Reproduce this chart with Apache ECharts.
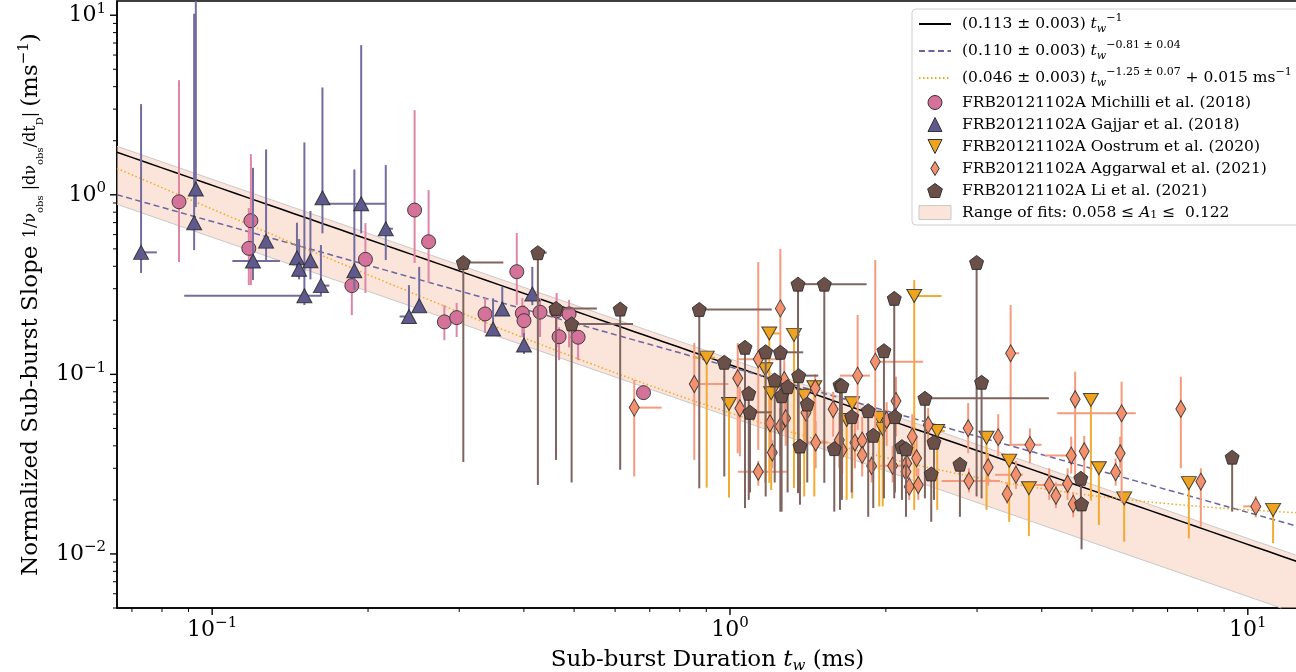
<!DOCTYPE html>
<html><head><meta charset="utf-8">
<script src="https://cdn.jsdelivr.net/npm/echarts@6/dist/echarts.min.js"></script>
<style>html,body{margin:0;padding:0;background:#fff}#c{width:1296px;height:672px}</style>
</head><body><div id="c"></div>
<script>
// ---------- axis ranges ----------
const X_MIN = 0.0655, X_MAX = 12.5;
const Y_MIN = 0.005, Y_MAX = 12;

// ---------- fit parameters [A, exponent, offset] ----------
const fitSolid = [0.113, -1, 0];
const fitDashed = [0.110, -0.81, 0];
const fitDotted = [0.046, -1.25, 0.015];
const bandA = [0.058, 0.122];

// ---------- data rows: [t_w, slope, slopeLo, slopeHi, tLo, tHi] ----------
const michilli = [
[0.0863,0.914,0.422,4.35,null,null],[0.1188,0.717,0.314,1.685,null,null],[0.1177,0.503,0.314,0.843,null,null],
[0.246,0.822,0.417,2.96,null,null],[0.2618,0.548,0.323,1.062,null,null],[0.1977,0.437,0.284,0.696,null,null],
[0.1861,0.312,0.214,0.348,null,null],[0.2808,0.196,0.155,0.243,null,null],[0.2966,0.207,0.1615,0.250,null,null],
[0.3365,0.217,0.170,0.266,null,null],[0.3875,0.373,0.243,0.612,null,null],[0.3972,0.219,0.1615,0.266,null,null],
[0.4001,0.199,0.1457,0.243,null,null],[0.4297,0.222,0.1615,0.266,null,null],[0.4626,0.226,0.1415,0.284,null,null],
[0.4889,0.217,0.1415,0.26,null,null],[0.4677,0.162,0.120,0.183,null,null],[0.509,0.161,0.120,0.176,null,null],
[0.6808,0.0791,0.072,0.0873,null,null]
];
const gajjar = [
[0.0729,0.478,0.367,3.20,null,0.0782],[0.0930,1.076,0.854,14,null,null],[0.0923,0.699,0.492,10.2,null,null],
[0.1199,0.428,0.335,1.413,0.1094,0.1352],[0.1271,0.552,0.433,1.789,null,null],[0.1458,0.446,0.350,0.699,null,null],
[0.1472,0.385,0.338,0.567,null,null],[0.1548,0.429,0.338,0.812,null,null],[0.1507,0.274,0.243,1.957,0.0883,0.1616],
[0.1622,0.312,0.271,0.525,null,0.1684],[0.1633,0.962,0.610,3.96,null,null],[0.1940,0.891,0.610,6.81,0.1637,0.2168],
[0.1882,0.378,0.295,1.384,null,null],[0.2164,0.647,0.433,1.463,null,0.2234],[0.2399,0.210,0.201,0.314,0.2301,null],
[0.2511,0.241,0.231,0.397,null,null],[0.3633,0.231,0.220,0.308,null,null],[0.3487,0.179,0.169,0.265,null,null],
[0.4152,0.280,0.243,0.397,null,null],[0.4001,0.1457,0.13,0.17,null,null]
];
const oostrum = [
[0.9016,0.1239,0.0234,0.1239,0.8474,0.9355],[1.191,0.169,0.0249,0.169,1.17,1.249],[1.329,0.166,0.0233,0.166,null,1.365],
[1.170,0.1068,0.0249,0.1068,null,null],[0.9956,0.0684,0.0206,0.0684,null,null],[1.201,0.0785,0.0227,0.0785,null,null],
[1.391,0.0761,0.0209,0.0761,null,null],[1.455,0.0848,0.0209,0.0848,null,null],[1.722,0.0691,0.0204,0.0691,null,null],
[1.680,0.0557,0.0200,0.0557,null,null],[1.942,0.0574,0.0184,0.0574,null,null],[1.972,0.0497,0.0184,0.0497,null,null],
[2.269,0.273,0.0176,0.335,null,2.563],[2.513,0.0484,0.0176,0.0484,null,2.6],[3.129,0.0444,0.0176,0.0444,null,null],
[3.461,0.0331,0.0151,0.0331,null,null],[3.778,0.0232,0.0126,0.0232,null,null],[4.977,0.0720,0.0198,0.0720,null,null],
[5.157,0.0300,0.0145,0.0300,null,null],[5.771,0.0204,0.0117,0.0204,null,null],[7.693,0.0248,0.0122,0.0248,null,null],
[11.19,0.0176,0.0115,0.0176,null,null]
];
const aggarwal = [
[0.6533,0.0653,0.0270,0.0931,null,0.7379],[0.8532,0.0884,0.0334,0.1495,null,0.9925],[1.251,0.233,0.120,0.50,null,null],
[1.134,0.1213,0.038,0.422,1.036,1.258],[1.035,0.0951,0.0364,0.1495,null,null],[1.045,0.0648,0.035,0.085,null,null],
[1.134,0.0287,0.024,0.033,1.036,1.287],[1.195,0.0534,0.040,0.070,null,null],[1.207,0.0367,0.030,0.043,null,null],
[1.249,0.0512,0.035,0.065,null,null],[1.281,0.0570,0.040,0.075,null,null],[1.273,0.0931,0.060,0.120,null,null],
[1.461,0.0837,0.050,0.100,null,null],[1.402,0.0612,0.040,0.080,null,null],[1.464,0.0417,0.030,0.055,1.35,1.55],
[1.582,0.0639,0.045,0.080,null,null],[1.626,0.0431,0.030,0.060,null,null],[1.647,0.0380,0.028,0.050,null,null],
[1.743,0.0417,0.030,0.060,null,null],[1.800,0.0428,0.030,0.058,null,null],[1.800,0.0356,0.027,0.045,null,null],
[1.764,0.0984,0.0491,0.214,1.631,1.863],[1.908,0.1177,0.0450,0.433,null,2.361],[1.877,0.0309,0.025,0.035,null,null],
[2.092,0.0711,0.045,0.0971,null,null],[2.061,0.0310,0.025,0.040,1.95,2.2],[2.007,0.0557,0.040,0.070,null,null],
[2.249,0.0450,0.035,0.060,null,null],[2.293,0.0341,0.027,0.045,null,null],[2.194,0.0320,0.026,0.040,null,null],
[2.187,0.0287,0.023,0.035,null,null],[2.219,0.0237,0.020,0.027,null,null],[2.310,0.0242,0.020,0.030,null,null],
[2.414,0.0523,0.040,0.065,null,null],[2.884,0.0501,0.0364,0.0693,null,null],[2.893,0.0255,0.022,0.030,2.563,3.321],
[3.152,0.0304,0.024,0.036,null,null],[3.296,0.0447,0.035,0.060,null,null],[3.483,0.1310,0.0400,0.243,null,3.619],
[3.795,0.0405,0.032,0.050,3.471,3.997],[3.566,0.0276,0.023,0.033,3.249,3.679],[3.430,0.0216,0.019,0.025,null,null],
[4.135,0.0242,0.020,0.030,3.88,4.40],[4.260,0.0211,0.018,0.025,null,null],[4.487,0.0246,0.020,0.030,null,null],
[4.600,0.0190,0.016,0.022,null,null],[4.560,0.0353,0.028,0.045,4.056,4.67],[4.641,0.0727,0.0270,0.1035,null,null],
[4.831,0.0373,0.0237,0.0454,null,null],[5.555,0.0285,0.024,0.034,null,null],[5.669,0.0364,0.030,0.045,null,null],
[5.705,0.0607,0.0193,0.0911,4.285,6.078],[7.424,0.0642,0.0300,0.0971,null,null],[8.114,0.0253,0.0142,0.030,null,null],
[10.36,0.0184,0.016,0.021,9.8,10.6]
];
const li = [
[0.3055,0.420,0.0325,0.44,null,0.365],[0.4256,0.476,0.0242,0.50,null,0.4426],[0.4613,0.233,0.0334,0.24,null,0.5533],
[0.4945,0.191,0.0250,0.20,null,0.6499],[0.6137,0.231,0.0294,0.24,null,null],[0.8723,0.230,0.0232,0.24,null,1.204],
[0.975,0.1168,0.0270,0.12,null,null],[1.069,0.1415,0.0180,0.145,null,null],[1.087,0.0785,0.0200,0.08,null,null],
[1.093,0.0615,0.0220,0.063,null,1.204],[1.172,0.1337,0.0209,0.137,null,null],[1.251,0.1327,0.0172,0.136,null,1.385],
[1.220,0.0931,0.0250,0.095,null,null],[1.258,0.0761,0.0172,0.078,null,null],[1.292,0.0854,0.0220,0.087,null,null],
[1.353,0.318,0.0218,0.33,null,1.519],[1.521,0.318,0.0249,0.33,null,1.836],[1.357,0.0984,0.0250,0.10,null,1.481],
[1.410,0.0684,0.0250,0.07,null,null],[1.365,0.0399,0.0188,0.041,null,null],[1.631,0.0873,0.0176,0.089,null,null],
[1.645,0.0865,0.0200,0.088,null,null],[1.590,0.0386,0.0172,0.04,null,null],[1.718,0.0582,0.0220,0.06,null,null],
[1.849,0.0628,0.0161,0.064,null,null],[1.891,0.0458,0.0180,0.047,null,null],[1.983,0.1355,0.0204,0.14,null,null],
[2.076,0.265,0.0204,0.27,null,null],[2.082,0.0582,0.0220,0.06,null,null],[2.148,0.0396,0.0200,0.041,null,null],
[2.187,0.0385,0.0161,0.04,null,null],[2.379,0.0736,0.0204,0.075,null,4.129],[2.447,0.0279,0.0151,0.029,null,null],
[2.477,0.0419,0.0200,0.043,null,null],[2.780,0.0316,0.0161,0.032,null,null],[2.994,0.420,0.0209,0.43,null,null],
[3.061,0.0904,0.0204,0.092,null,null],[4.760,0.0264,0.0200,0.027,null,null],[4.775,0.0190,0.0106,0.02,null,null],
[9.327,0.0346,0.0172,0.035,null,null]
];

// ---------- names ----------
const nameSolid = 'fitSolid', nameDashed = 'fitDashed', nameDotted = 'fitDotted', nameBand = 'band';
const seriesNames = ['FRB20121102A Michilli et al. (2018)','FRB20121102A Gajjar et al. (2018)','FRB20121102A Oostrum et al. (2020)','FRB20121102A Aggarwal et al. (2021)','FRB20121102A Li et al. (2021)'];

const FONT = 'DejaVu Serif';
const DIAMOND = 'path://M0,-5 L3,0 L0,5 L-3,0 Z';
const TRI_UP = 'path://M0,-1 L1,1 L-1,1 Z';
const TRI_DOWN = 'path://M-1,-1 L1,-1 L0,1 Z';
const PENTA = 'path://M0,-1 L0.951,-0.309 L0.588,0.809 L-0.588,0.809 L-0.951,-0.309 Z';

const styles = [
  {rows: michilli, symbol:'circle', size:14, fill:'#d5729a', err:'#df85a6'},
  {rows: gajjar, symbol:TRI_UP, size:[15,14], fill:'#5f5a8e', err:'#736c9e'},
  {rows: oostrum, symbol:TRI_DOWN, size:[15,13], fill:'#efa41f', err:'#f1ab32'},
  {rows: aggarwal, symbol:DIAMOND, size:[10,17], fill:'#f3906e', err:'#f59a7c'},
  {rows: li, symbol:PENTA, size:[14,14], fill:'#6b5049', err:'#7e655f'}
];

function fitCurve(p) {
  const n = 80, out = [];
  for (let i = 0; i <= n; i++) {
    const t = X_MIN * Math.pow(X_MAX / X_MIN, i / n);
    out.push([t, p[0] * Math.pow(t, p[1]) + p[2]]);
  }
  return out;
}
function logTicks(min, max) {
  const out = [];
  for (let e = Math.floor(Math.log10(min)); e <= Math.ceil(Math.log10(max)); e++) {
    for (let m = 1; m <= 9; m++) {
      const v = m * Math.pow(10, e);
      if (v < min * (1 - 1e-9) || v > max * (1 + 1e-9)) continue;
      out.push([v, m === 1 ? 1 : 0]);
    }
  }
  return out;
}
const xTickVals = logTicks(X_MIN, X_MAX);
const yTickVals = logTicks(Y_MIN, Y_MAX);

function powLabel(v) {
  const e = Math.log10(v);
  const r = Math.round(e);
  if (Math.abs(e - r) > 1e-6) return '';
  return '{b|10}{s|' + (r < 0 ? '\u2212' + (-r) : r) + '}';
}
const tickRich = {
  b: {fontFamily: FONT, fontSize: 22, lineHeight: 28, color: '#000'},
  s: {fontFamily: FONT, fontSize: 15, lineHeight: 15, color: '#000', verticalAlign: 'top'}
};

function errSeries(st, idx) {
  return {
    type: 'custom', name: 'err' + idx, data: st.rows, z: 4 + 2 * idx, silent: true,
    dimensions: ['t','v','lo','hi','tlo','thi'], encode: {x: 0, y: 1},
    renderItem: function (params, api) {
      const cs = params.coordSys;
      const cy = y => Math.max(cs.y, Math.min(cs.y + cs.height, y));
      const cx = x => Math.max(cs.x, Math.min(cs.x + cs.width, x));
      const t = api.value(0), v = api.value(1), lo = api.value(2), hi = api.value(3), tlo = api.value(4), thi = api.value(5);
      const p = api.coord([t, v]);
      const ch = [];
      const yl = (isFinite(lo) && lo > 0) ? api.coord([t, lo])[1] : p[1];
      const yh = (isFinite(hi) && hi > 0) ? api.coord([t, hi])[1] : p[1];
      if (Math.abs(yl - yh) > 0.5) ch.push({type: 'line', shape: {x1: p[0], y1: cy(yl), x2: p[0], y2: cy(yh)}, style: {stroke: st.err, lineWidth: 2}});
      const xl = (isFinite(tlo) && tlo > 0) ? api.coord([tlo, v])[0] : p[0];
      const xh = (isFinite(thi) && thi > 0) ? api.coord([thi, v])[0] : p[0];
      if (Math.abs(xl - xh) > 0.5) ch.push({type: 'line', shape: {x1: cx(xl), y1: p[1], x2: cx(xh), y2: p[1]}, style: {stroke: st.err, lineWidth: 2}});
      return {type: 'group', children: ch};
    }
  };
}
function markerSeries(st, idx) {
  return {
    type: 'scatter', name: seriesNames[idx], data: st.rows, z: 5 + 2 * idx,
    dimensions: ['t','v','lo','hi','tlo','thi'], encode: {x: 0, y: 1},
    symbol: st.symbol, symbolSize: st.size, symbolKeepAspect: false,
    itemStyle: {color: st.fill, borderColor: 'rgba(40,40,40,0.85)', borderWidth: 1, opacity: 1}
  };
}

const bandSeries = {
  type: 'custom', name: nameBand, data: [[1, 1]], z: 1, silent: true,
  renderItem: function (params, api) {
    const up = [api.coord([X_MIN, bandA[1] / X_MIN]), api.coord([X_MAX, bandA[1] / X_MAX])];
    const tc = bandA[0] / Y_MIN;
    let lowEdge;
    if (tc < X_MAX) lowEdge = [api.coord([tc, Y_MIN]), api.coord([X_MIN, bandA[0] / X_MIN])];
    else lowEdge = [api.coord([X_MAX, bandA[0] / X_MAX]), api.coord([X_MIN, bandA[0] / X_MIN])];
    const poly = up.concat(tc < X_MAX ? [api.coord([X_MAX, Y_MIN])] : []).concat(lowEdge);
    return {type: 'group', children: [
      {type: 'polygon', shape: {points: poly}, style: {fill: 'rgba(247,208,190,0.55)', stroke: null}},
      {type: 'polyline', shape: {points: up}, style: {stroke: '#c9c9c9', lineWidth: 1, fill: null}},
      {type: 'polyline', shape: {points: lowEdge}, style: {stroke: '#c9c9c9', lineWidth: 1, fill: null}}
    ]};
  }
};

function tickSeries(vals, isX) {
  return {
    type: 'custom', name: isX ? 'xt' : 'yt', silent: true, z: 30,
    data: vals.map(d => isX ? [d[0], 1, d[1]] : [1, d[0], d[1]]),
    renderItem: function (params, api) {
      const cs = params.coordSys;
      const major = api.value(2) === 1;
      const len = major ? 7 : 4;
      if (isX) {
        const px = api.coord([api.value(0), 1])[0];
        const y0 = cs.y + cs.height;
        return {type: 'line', shape: {x1: px, y1: y0, x2: px, y2: y0 + len}, style: {stroke: '#000', lineWidth: major ? 1.4 : 1}};
      } else {
        const py = api.coord([1, api.value(1)])[1];
        return {type: 'line', shape: {x1: cs.x - len, y1: py, x2: cs.x, y2: py}, style: {stroke: '#000', lineWidth: major ? 1.4 : 1}};
      }
    }
  };
}

const legendLabels = {};
legendLabels[nameSolid] = '{r|(0.113 \u00b1 0.003) }{i|t}{sub|w}{sup|\u22121}';
legendLabels[nameDashed] = '{r|(0.110 \u00b1 0.003) }{i|t}{sub|w}{sup|\u22120.81 \u00b1 0.04}';
legendLabels[nameDotted] = '{r|(0.046 \u00b1 0.003) }{i|t}{sub|w}{sup|\u22121.25 \u00b1 0.07}{r| + 0.015 ms}{sup|\u22121}';
legendLabels[nameBand] = 'Range of fits: 0.058 \u2264 {i|A}{s1|1}{p| \u2264  0.122}';

const lineCommon = {type: 'line', showSymbol: false, symbol: 'none', silent: true, z: 3, smooth: false};
const noSym = {color: 'rgba(0,0,0,0)', borderColor: 'rgba(0,0,0,0)', borderWidth: 0};

const option = {
  animation: false,
  backgroundColor: '#fff',
  grid: {left: 117, right: -2, top: 1, bottom: 64, show: true, borderColor: '#000', borderWidth: 1.5, backgroundColor: 'transparent', containLabel: false, outerBoundsMode: 'none'},
  xAxis: {
    type: 'log', logBase: 10, min: X_MIN, max: X_MAX,
    name: 'Sub-burst Duration {i|t}{sub|w} (ms)', nameLocation: 'middle', nameGap: 33,
    nameTextStyle: {fontFamily: FONT, fontSize: 23, color: '#000', lineHeight: 28,
      rich: {i: {fontFamily: FONT, fontSize: 23, fontStyle: 'italic', color: '#000', lineHeight: 28},
             sub: {fontFamily: FONT, fontSize: 15, fontStyle: 'italic', color: '#000', lineHeight: 18, verticalAlign: 'bottom'}}},
    axisLine: {show: true, lineStyle: {color: '#000', width: 1.5}},
    axisTick: {show: false}, minorTick: {show: false}, splitLine: {show: false}, minorSplitLine: {show: false},
    axisLabel: {formatter: powLabel, rich: tickRich, margin: 8, showMinLabel: true, showMaxLabel: true, hideOverlap: false}
  },
  yAxis: {
    type: 'log', logBase: 10, min: Y_MIN, max: Y_MAX,
    name: 'Normalized Sub-burst Slope {f|1/\u03bd}{sub|obs}{f| |d\u03bd}{sub|obs}{f|/dt}{sub|D}{f|| }(ms{sup|\u22121})',
    nameLocation: 'middle', nameGap: 72, nameRotate: 90,
    nameTextStyle: {fontFamily: FONT, fontSize: 23, color: '#000', lineHeight: 28,
      rich: {f: {fontFamily: FONT, fontSize: 16, color: '#000', lineHeight: 28},
             sub: {fontFamily: FONT, fontSize: 10, color: '#000', lineHeight: 18, verticalAlign: 'bottom'},
             sup: {fontFamily: FONT, fontSize: 15, color: '#000', lineHeight: 15, verticalAlign: 'top'}}},
    axisLine: {show: true, lineStyle: {color: '#000', width: 1.5}},
    axisTick: {show: false}, minorTick: {show: false}, splitLine: {show: false}, minorSplitLine: {show: false},
    axisLabel: {formatter: powLabel, rich: tickRich, margin: 11, showMinLabel: true, showMaxLabel: true, hideOverlap: false}
  },
  legend: {
    show: true, orient: 'vertical', left: 912, top: 9, selectedMode: false,
    itemWidth: 32, itemHeight: 14, itemGap: 5, symbolKeepAspect: true,
    padding: [4, 8, 4, 6],
    backgroundColor: 'rgba(255,255,255,0.85)', borderColor: '#cfcfcf', borderWidth: 1, borderRadius: 4,
    formatter: name => legendLabels[name] || name,
    textStyle: {fontFamily: FONT, fontSize: 15.5, color: '#000', lineHeight: 17, padding: [0, 0, 0, 6],
      rich: {
        r: {fontFamily: FONT, fontSize: 15.5, color: '#000', lineHeight: 22},
        i: {fontFamily: FONT, fontSize: 15.5, fontStyle: 'italic', color: '#000', lineHeight: 17},
        sub: {fontFamily: FONT, fontSize: 11, fontStyle: 'italic', color: '#000', lineHeight: 13, verticalAlign: 'bottom'},
        sup: {fontFamily: FONT, fontSize: 11, color: '#000', lineHeight: 12, verticalAlign: 'top'},
        s1: {fontFamily: FONT, fontSize: 11, color: '#000', lineHeight: 12, verticalAlign: 'bottom'},
        p: {fontFamily: FONT, fontSize: 15.5, color: '#000', lineHeight: 17}
      }},
    data: [
      {name: nameSolid, itemStyle: noSym},
      {name: nameDashed, itemStyle: noSym},
      {name: nameDotted, itemStyle: noSym},
      {name: seriesNames[0], icon: 'circle', itemStyle: {color: styles[0].fill, borderColor: '#333', borderWidth: 1}},
      {name: seriesNames[1], icon: TRI_UP, itemStyle: {color: styles[1].fill, borderColor: '#333', borderWidth: 1}},
      {name: seriesNames[2], icon: TRI_DOWN, itemStyle: {color: styles[2].fill, borderColor: '#333', borderWidth: 1}},
      {name: seriesNames[3], icon: 'path://M0,-5 L3,0 L0,5 L-3,0 Z', itemStyle: {color: styles[3].fill, borderColor: '#333', borderWidth: 1}},
      {name: seriesNames[4], icon: PENTA, itemStyle: {color: styles[4].fill, borderColor: '#333', borderWidth: 1}},
      {name: nameBand, icon: 'rect', itemStyle: {color: 'rgba(247,208,190,0.55)', borderColor: '#c9c9c9', borderWidth: 1}}
    ]
  },
  series: [
    bandSeries,
    Object.assign({}, lineCommon, {name: nameSolid, data: fitCurve(fitSolid), lineStyle: {color: '#000', width: 1.5, type: 'solid'}, itemStyle: {color: '#000'}}),
    Object.assign({}, lineCommon, {name: nameDashed, data: fitCurve(fitDashed), lineStyle: {color: '#6a64a0', width: 1.5, type: [6, 3.5]}, itemStyle: {color: '#6a64a0'}}),
    Object.assign({}, lineCommon, {name: nameDotted, data: fitCurve(fitDotted), lineStyle: {color: '#f5a81c', width: 1.5, type: [1.5, 2.5]}, itemStyle: {color: '#f5a81c'}})
  ].concat(styles.flatMap((st, i) => [errSeries(st, i), markerSeries(st, i)]))
   .concat([tickSeries(xTickVals, true), tickSeries(yTickVals, false)])
};

const chart = echarts.init(document.getElementById('c'), null, {renderer: 'canvas'});
chart.setOption(option);
</script>
</body></html>
